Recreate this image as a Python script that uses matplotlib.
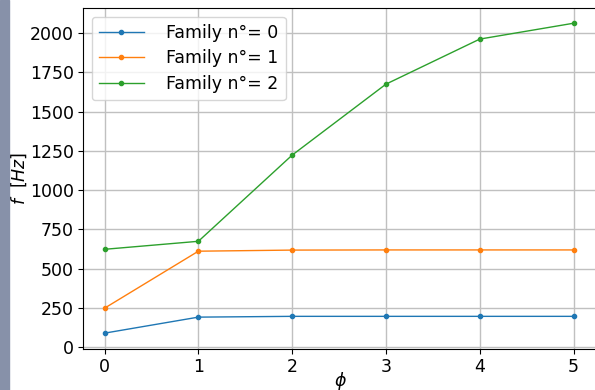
import matplotlib
matplotlib.use("Agg")
import matplotlib.pyplot as plt

phi = [0, 1, 2, 3, 4, 5]
family_0 = [89, 191, 196, 196, 196, 196]
family_1 = [248, 611, 618, 619, 619, 619]
family_2 = [623, 674, 1223, 1675, 1962, 2063]
labels = ["Family n°= 0", "Family n°= 1", "Family n°= 2"]

fig = plt.figure(figsize=(5.95, 3.9), dpi=100)
# grey strip on the left edge of the screenshot
fig.patches.append(plt.Rectangle((0, 0), 9 / 595, 1, transform=fig.transFigure,
                                 color="#8791a9", zorder=0))
ax = fig.add_axes([83 / 595, 41 / 390, 514 / 595, 341 / 390])

for ys, lab in zip([family_0, family_1, family_2], labels):
    ax.plot(phi, ys, marker=".", markersize=6, linewidth=1, label=lab)

ax.set_xlim(-0.23, 5.25)
ax.set_ylim(-12, 2160)
ax.set_yticks(range(0, 2001, 250))
ax.grid(True, color="#c0c0c0", linewidth=1)
ax.tick_params(labelsize=12.5, pad=3)
ax.set_xlabel(r"$\phi$", fontsize=12.5, labelpad=-4)
ax.set_ylabel(r"$f\ \ [Hz]$", fontsize=12.5, labelpad=1)
ax.legend(loc="upper left", fontsize=12.5, handlelength=2.6, handletextpad=1.3,
          labelspacing=0.45)

fig.savefig("out.png", dpi=100)
